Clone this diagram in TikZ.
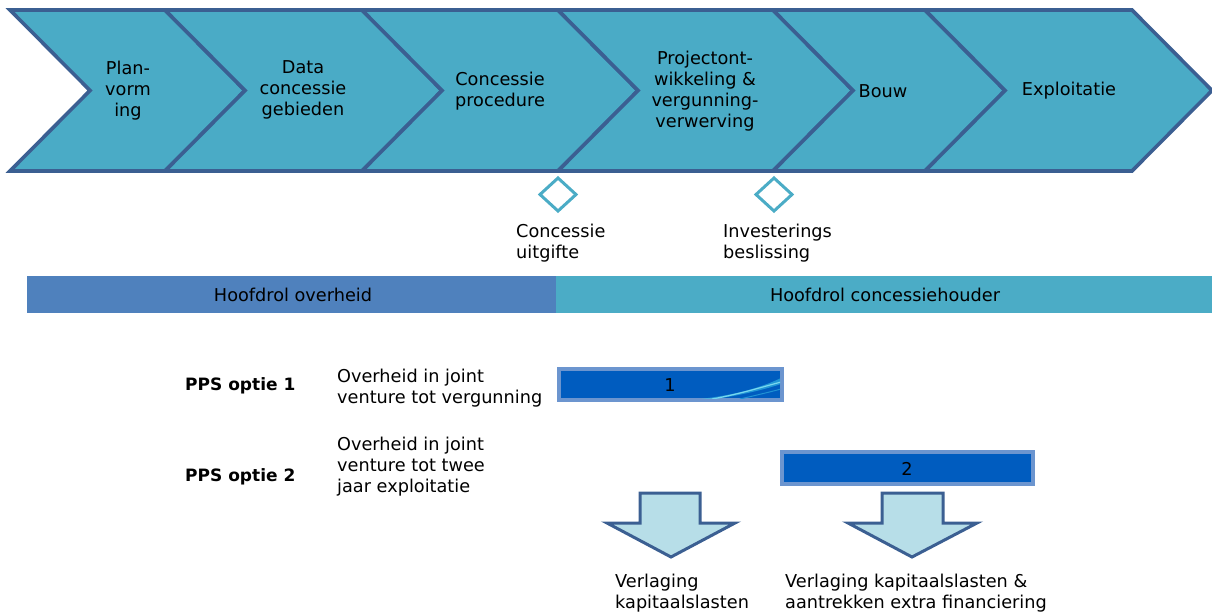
\documentclass[tikz,border=0pt]{standalone}
\usepackage{fontspec}
\setmainfont{DejaVu Sans}
\definecolor{chevfill}{HTML}{4AABC6}
\definecolor{chevline}{HTML}{3B5F92}
\definecolor{barleft}{HTML}{4F81BD}
\definecolor{barright}{HTML}{4BACC6}
\definecolor{arrfill}{HTML}{B7DEE8}
\definecolor{boxfill}{HTML}{005CBF}
\definecolor{boxline}{HTML}{6C95CF}
\definecolor{swoosh}{HTML}{3FC8E8}
\begin{document}
\begin{tikzpicture}[x=1pt,y=-1pt,
  every node/.style={font=\fontsize{17.7}{21}\selectfont, inner sep=0pt, text=black},
  chev/.style={fill=chevfill, draw=chevline, line width=3.6pt, line join=miter},
  chevtext/.style={align=center},
  lbl/.style={anchor=west, align=left},
  mile/.style={draw=barright, fill=white, line width=3pt},
  blockarrow/.style={fill=arrfill, draw=chevline, line width=3pt, line join=miter},
  phasebox/.style={fill=boxfill, draw=boxline, line width=3.5pt},
  ppslbl/.style={anchor=west, font=\fontsize{17}{21}\selectfont\bfseries}]
\useasboundingbox (0,0) rectangle (1212,614);
% chevrons
\foreach \l/\r in {10/165,165/362,362/558,558/773,773/925,925/1132}{
  \path[chev] (\l,10) -- (\r,10) -- (\r+80,90.5) -- (\r,171) -- (\l,171) -- (\l+80,90.5) -- cycle;
}
\node[chevtext] (c1) at (128,91) {Plan-\\vorm\\ing};
\node[chevtext] (c2) at (303,90) {Data\\concessie\\gebieden};
\node[chevtext] (c3) at (500,91) {Concessie\\procedure};
\node[chevtext] (c4) at (705,91) {Projectont-\\wikkeling \&\\vergunning-\\verwerving};
\node[chevtext] (c5) at (883,91) {Bouw};
\node[chevtext] (c6) at (1069,91) {Exploitatie};
% milestones
\path[mile] (558,178) -- (576,194.5) -- (558,211) -- (540,194.5) -- cycle;
\path[mile] (774,178) -- (792,194.5) -- (774,211) -- (756,194.5) -- cycle;
\node[lbl] (m1) at (516,243) {Concessie\\uitgifte};
\node[lbl] (m2) at (723,243) {Investerings\\beslissing};
% role bar
\fill[barleft] (27,276) rectangle (556,313);
\fill[barright] (556,276) rectangle (1212,313);
\node (r1) at (293,295) {Hoofdrol overheid};
\node (r2) at (885,295) {Hoofdrol concessiehouder};
% PPS options
\node[ppslbl] (p1) at (185,386) {PPS optie 1};
\node[ppslbl] (p2) at (185,477) {PPS optie 2};
\node[lbl] (o1) at (337,388) {Overheid in joint\\venture tot vergunning};
\node[lbl] (o2) at (337,467) {Overheid in joint\\venture tot twee\\jaar exploitatie};
% phase boxes
\path[phasebox] (559,369) rectangle (782,400);
\begin{scope}
  \clip (561,371) rectangle (780,398);
  \fill[swoosh, opacity=0.55] (700,399) .. controls (735,395) and (760,388) .. (781,378) -- (781,384) .. controls (760,391) and (735,396) .. (715,399) -- cycle;
  \draw[swoosh!70!white, line width=1.2pt] (712,399) .. controls (740,394) and (762,387) .. (781,382);
  \draw[swoosh!50!boxfill, line width=1pt] (740,399) .. controls (757,395) and (770,392) .. (781,389);
\end{scope}
\node (b1) at (670,385) {1};
\path[phasebox] (782,452) rectangle (1033,484);
\node (b2) at (907,469) {2};
% block arrows
\path[blockarrow] (640,493) -- (700,493) -- (700,523) -- (735,523) -- (671,557) -- (607,523) -- (640,523) -- cycle;
\path[blockarrow] (882,493) -- (943,493) -- (943,523) -- (977,523) -- (912,557) -- (848,523) -- (882,523) -- cycle;
\node[lbl] (a1) at (615,593) {Verlaging\\kapitaalslasten};
\node[lbl] (a2) at (785,593) {Verlaging kapitaalslasten \&\\aantrekken extra financiering};
\end{tikzpicture}
\end{document}
